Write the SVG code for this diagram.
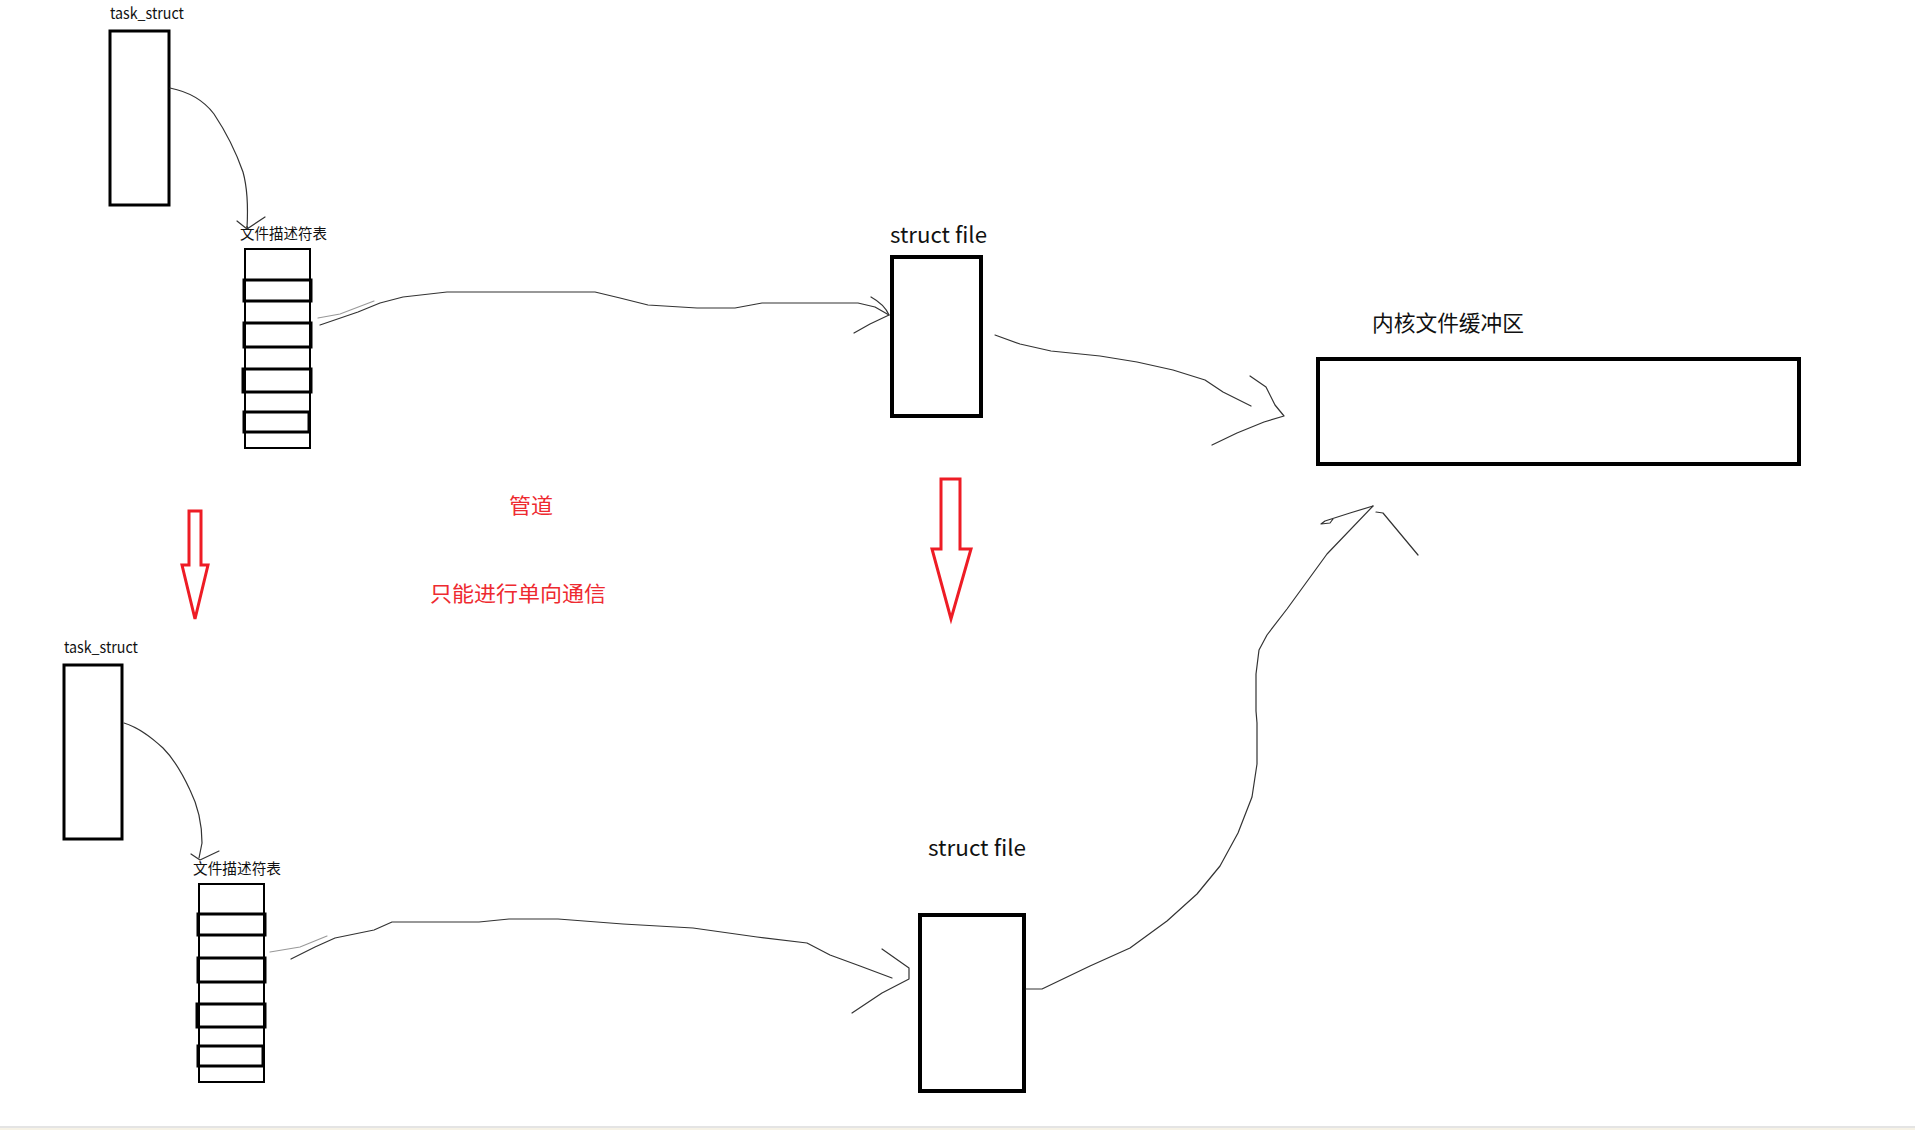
<svg xmlns="http://www.w3.org/2000/svg" width="1915" height="1130" viewBox="0 0 1915 1130">
<style>
.lbl{font-family:"Noto Sans CJK SC","Liberation Sans",sans-serif;fill:#111}
.red{font-family:"Noto Sans CJK SC","Liberation Sans",sans-serif;fill:#ee2a30;font-size:21px}
.box{fill:#fff;stroke:#000;stroke-width:3}
.thick{fill:#fff;stroke:#000;stroke-width:4}
.tbl{fill:#fff;stroke:#000;stroke-width:2}
.row{fill:none;stroke:#000;stroke-width:3}
.pen{fill:none;stroke:#333;stroke-width:1.2;stroke-linejoin:round;stroke-linecap:round}
.pen2{fill:none;stroke:#999;stroke-width:1.2;stroke-linecap:round}
.rarrow{fill:#fff;stroke:#ee1c25;stroke-width:3;stroke-linejoin:miter}
</style>
<rect x="0" y="0" width="1915" height="1130" fill="#fff"/>
<rect x="0" y="1126" width="1915" height="2" fill="#e4e4e4"/>
<rect x="0" y="1128" width="1915" height="2" fill="#f6f2e6"/>

<g id="task_struct_top">
<text class="lbl" x="110" y="19" font-size="15" textLength="74" lengthAdjust="spacingAndGlyphs">task_struct</text>
<rect class="box" x="110" y="31" width="59" height="174"/>
</g>
<g id="fd_table_top">
<text class="lbl" x="240" y="239" font-size="14.5" textLength="87" lengthAdjust="spacingAndGlyphs">文件描述符表</text>
<rect class="tbl" x="245" y="249" width="65" height="199"/>
<rect class="row" x="244" y="280" width="67" height="21"/>
<rect class="row" x="244" y="323" width="67" height="24"/>
<rect class="row" x="243" y="369" width="68" height="23"/>
<rect class="row" x="244" y="412" width="65" height="20"/>
</g>
<g id="struct_file_top">
<text class="lbl" x="890" y="243" font-size="22" textLength="97" lengthAdjust="spacingAndGlyphs">struct file</text>
<rect class="thick" x="892" y="257" width="89" height="159"/>
</g>
<g id="kernel_buffer">
<text class="lbl" x="1372" y="331" font-size="21.5" textLength="152" lengthAdjust="spacingAndGlyphs">内核文件缓冲区</text>
<rect class="thick" x="1318" y="359" width="481" height="105"/>
</g>
<g id="pipe_label">
<text class="red" x="509" y="513" textLength="44" lengthAdjust="spacingAndGlyphs">管道</text>
<text class="red" x="430" y="601" textLength="176" lengthAdjust="spacingAndGlyphs">只能进行单向通信</text>
</g>
<g id="down_arrow_left">
<polygon class="rarrow" points="189,511 201,511 201,565 208,565 195,619 182,565 189,565"/>
</g>
<g id="down_arrow_right">
<polygon class="rarrow" points="941,479 960,479 960,549 971,549 951,619 932,549 941,549"/>
</g>
<g id="task_struct_bottom">
<text class="lbl" x="64" y="653" font-size="15" textLength="74" lengthAdjust="spacingAndGlyphs">task_struct</text>
<rect class="box" x="64" y="665" width="58" height="174"/>
</g>
<g id="fd_table_bottom">
<text class="lbl" x="193" y="874" font-size="14.5" textLength="88" lengthAdjust="spacingAndGlyphs">文件描述符表</text>
<rect class="tbl" x="199" y="884" width="65" height="198"/>
<rect class="row" x="198" y="914" width="67" height="21"/>
<rect class="row" x="198" y="958" width="67" height="24"/>
<rect class="row" x="197" y="1004" width="68" height="23"/>
<rect class="row" x="198" y="1046" width="65" height="20"/>
</g>
<g id="struct_file_bottom">
<text class="lbl" x="928" y="856" font-size="22" textLength="98" lengthAdjust="spacingAndGlyphs">struct file</text>
<rect class="thick" x="920" y="915" width="104" height="176"/>
</g>

<g id="connectors">
<!-- task_struct top -> fd table top -->
<path class="pen" d="M170,88 C190,92 205,102 214,114 C226,132 236,152 243,172 C248,190 248,210 247,228"/>
<path class="pen" d="M237,221 L247,229 L265,217"/>
<!-- fd table top -> struct file top -->
<path class="pen2" d="M318,318 L340,314 L374,301"/>
<path class="pen" d="M320,325 L358,312 L380,303 L403,297 L447,292 L520,292 L595,292 L620,298 L648,305 L697,308 L735,308 L762,303 L858,303 L875,307 L889,315"/>
<path class="pen" d="M871,297 C880,302 886,308 889,315 L870,324 L854,333"/>
<!-- struct file top -> kernel buffer -->
<path class="pen" d="M995,335 L1020,344 L1051,351 L1100,356 L1137,362 L1173,370 L1205,380 L1223,392 L1251,406"/>
<path class="pen" d="M1250,376 L1266,387 L1275,405 L1284,416 L1264,422 L1237,433 L1212,445"/>
<!-- task_struct bottom -> fd table bottom -->
<path class="pen" d="M124,723 C140,728 152,738 163,748 C175,760 183,775 190,790 C198,806 202,825 202,843 L199,858"/>
<path class="pen" d="M191,854 L200,860 L219,851"/>
<!-- fd table bottom -> struct file bottom -->
<path class="pen2" d="M270,952 L300,947 L327,936"/>
<path class="pen" d="M291,959 L315,947 L335,938 L374,930 L392,922 L479,922 L509,919 L558,919 L623,924 L693,928 L757,937 L807,943 L830,955 L860,966 L892,978"/>
<path class="pen" d="M882,949 L909,968 L909,979 L882,993 L852,1013"/>
<!-- struct file bottom -> kernel buffer -->
<path class="pen" d="M1026,989 L1042,989 L1090,966 L1130,948 L1167,921 L1197,894 L1220,866 L1238,833 L1252,797 L1257,764 L1257,723 L1256,711 L1256,674 L1259,650 L1267,635 L1287,609 L1327,554 L1373,506"/>
<path class="pen" d="M1373,506 L1350,513 L1325,521 L1321,524 L1330,523 L1333,519"/>
<path class="pen" d="M1376,512 L1383,513 L1418,555"/>
</g>
</svg>
